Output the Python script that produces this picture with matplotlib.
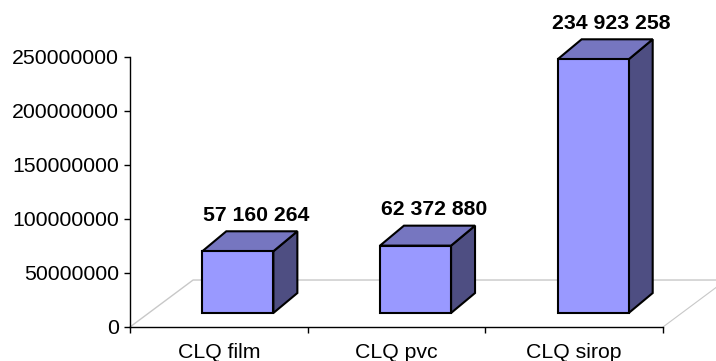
import numpy as np
import matplotlib.pyplot as plt
from matplotlib.patches import Polygon

plt.rcParams['font.family'] = ['Liberation Sans', 'DejaVu Sans']

# data
categories = ['CLQ film', 'CLQ pvc', 'CLQ sirop']
values = [57160264, 62372880, 234923258]
value_labels = ['57 160 264', '62 372 880', '234 923 258']
yticks = [0, 50000000, 100000000, 150000000, 200000000, 250000000]

# fake 3d geometry, in data units (x: categories, y: values)
FLOOR_DX, FLOOR_DY = 0.355, 43.5e6   # full depth of the floor
SHIFT_DX, SHIFT_DY = 0.107, 12.96e6  # where the bar front sits inside the depth
BAR_DX, BAR_DY = 0.135, 18.5e6       # bar depth
BAR_W = 0.40

FRONT = '#9999FF'
TOP = '#7676C0'
SIDE = '#4E4E82'
FS = 15.3

fig = plt.figure(figsize=(7.16, 3.61), dpi=100)
ax = fig.add_axes([130/716, 34/361, 533/716, 270/361])
ax.set_xlim(0, 3)
ax.set_ylim(0, 250000000)

# floor
ax.plot([0, FLOOR_DX, 3 + FLOOR_DX + 0.2], [0, FLOOR_DY, FLOOR_DY],
        color='#C8C8C8', lw=1.0, clip_on=False, zorder=1)
ax.plot([3, 3 + FLOOR_DX], [0, FLOOR_DY],
        color='#C8C8C8', lw=0.8, clip_on=False, zorder=1)

for i, v in enumerate(values):
    x0 = i + 0.3 + SHIFT_DX
    x1 = x0 + BAR_W
    y0 = SHIFT_DY
    y1 = v + SHIFT_DY
    front = [(x0, y0), (x1, y0), (x1, y1), (x0, y1)]
    top = [(x0, y1), (x1, y1), (x1 + BAR_DX, y1 + BAR_DY), (x0 + BAR_DX, y1 + BAR_DY)]
    side = [(x1, y0), (x1 + BAR_DX, y0 + BAR_DY), (x1 + BAR_DX, y1 + BAR_DY), (x1, y1)]
    for pts, c in ((side, SIDE), (top, TOP), (front, FRONT)):
        ax.add_patch(Polygon(pts, closed=True, facecolor=c, edgecolor='black',
                             lw=1.5, joinstyle='miter', clip_on=False, zorder=3))
    ax.text(i + 0.71, y1 + BAR_DY + 15e6, value_labels[i], ha='center', va='center',
            fontsize=FS, fontweight='bold', clip_on=False, zorder=4)

ax.spines['top'].set_visible(False)
ax.spines['right'].set_visible(False)
for s in ('left', 'bottom'):
    ax.spines[s].set_linewidth(1.0)
    ax.spines[s].set_zorder(5)

ax.set_yticks(yticks)
ax.set_yticklabels([str(t) for t in yticks])
ax.tick_params(axis='y', direction='out', length=4, width=1, pad=4, labelsize=FS)

ax.set_xticks([0, 1, 2, 3])
ax.set_xticklabels([])
ax.set_xticks([0.5, 1.5, 2.5], minor=True)
ax.set_xticklabels(categories, minor=True)
ax.tick_params(axis='x', which='major', direction='out', length=4, width=1)
ax.tick_params(axis='x', which='minor', length=0, pad=11.5, labelsize=FS)

fig.savefig('out.png', dpi=100)
